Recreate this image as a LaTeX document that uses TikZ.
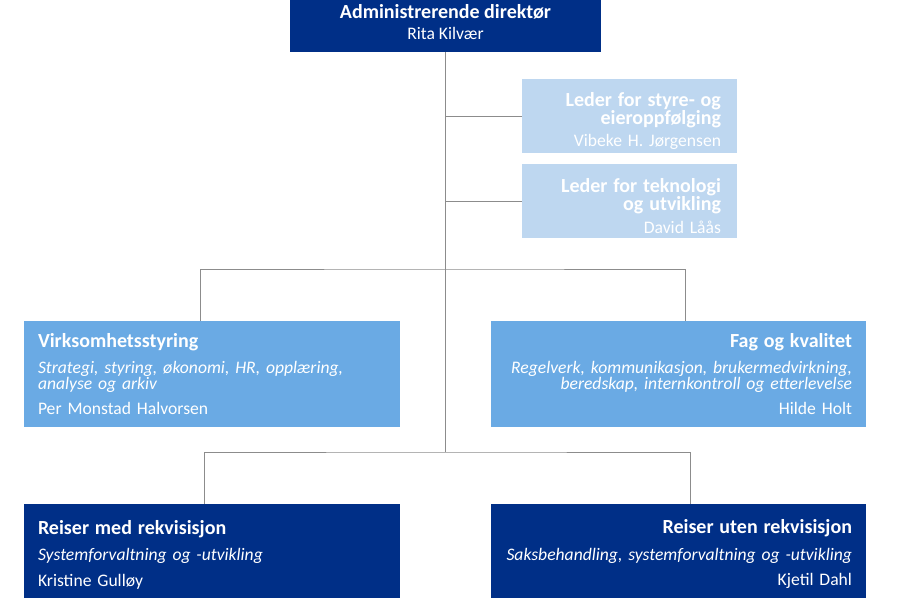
\documentclass[tikz,border=0pt]{standalone}
\usepackage{fontspec}
\setmainfont{Carlito}
\usetikzlibrary{positioning,calc}

\definecolor{darkblue}{RGB}{0,47,135}
\definecolor{midblue}{RGB}{106,170,228}
\definecolor{lightblue}{RGB}{190,215,240}
\definecolor{linegray}{RGB}{140,140,140}

\newcommand{\unittitle}[1]{{\fontsize{20}{16.5}\selectfont\bfseries #1}}
\newcommand{\lift}[1]{\rule{0pt}{#1}}

\begin{document}
\begin{tikzpicture}[x=1pt, y=-1pt,
    box/.style={rectangle, inner xsep=14pt, inner ysep=0pt, text=white, font=\fontsize{17.6}{16.5}\selectfont},
    dark/.style={box, fill=darkblue},
    mid/.style={box, fill=midblue},
    light/.style={box, fill=lightblue, inner xsep=16pt},
    conn/.style={draw=linegray, line width=0.8pt}]
    \useasboundingbox (0,0) rectangle (900,600);

    % top
    \node (dir) [dark, minimum width=311pt, minimum height=52pt, align=center, text depth=8pt] at (445.5,26) {\unittitle{Administrerende direktør}\\[4pt]Rita Kilvær};

    % staff
    \node (styre) [light, text width=183pt, minimum height=74pt, align=right] at (629.5,116) {\unittitle{\lift{24pt}Leder for styre- og\\eieroppfølging}\\[6pt]Vibeke H. Jørgensen};
    \node (tek) [light, text width=183pt, minimum height=74pt, align=right] at (629.5,201) {\unittitle{\lift{24pt}Leder for teknologi\\og utvikling}\\[6pt]David Låås};

    % departments
    \node (virk) [mid, text width=348pt, minimum height=106pt, align=left] at (212,374) {\unittitle{Virksomhetsstyring}\\[9pt]{\itshape Strategi, styring, økonomi, HR, opplæring,\\analyse og arkiv}\\[8pt]Per Monstad Halvorsen};
    \node (fag) [mid, text width=347pt, minimum height=106pt, align=right] at (678.5,374) {\unittitle{Fag og kvalitet}\\[9pt]{\itshape Regelverk, kommunikasjon, brukermedvirkning,\\beredskap, internkontroll og etterlevelse}\\[8pt]Hilde Holt};
    \node (rmed) [dark, text width=348pt, minimum height=94pt, align=left] at (212,551) {\unittitle{\lift{21pt}Reiser med rekvisisjon}\\[10pt]{\itshape Systemforvaltning og -utvikling}\\[9pt]Kristine Gulløy};
    \node (ruten) [dark, text width=347pt, minimum height=94pt, align=right] at (678.5,551) {\unittitle{\lift{21pt}Reiser uten rekvisisjon}\\[10pt]{\itshape Saksbehandling, systemforvaltning og -utvikling}\\[9pt]Kjetil Dahl};

    % lines
    \coordinate (upper) at (445.5,269);
    \coordinate (lower) at (445.5,452);
    \draw[conn] (dir.south) -- (lower);
    \draw[conn] (dir.south |- styre.west) -- (styre.west);
    \draw[conn] (dir.south |- tek.west) -- (tek.west);
    \draw[conn] ([xshift=-12pt]virk.north) |- (upper) -| ([xshift=6.5pt]fag.north);
    \draw[conn] ([xshift=-8pt]rmed.north) |- (lower) -| ([xshift=11.5pt]ruten.north);
\end{tikzpicture}
\end{document}
